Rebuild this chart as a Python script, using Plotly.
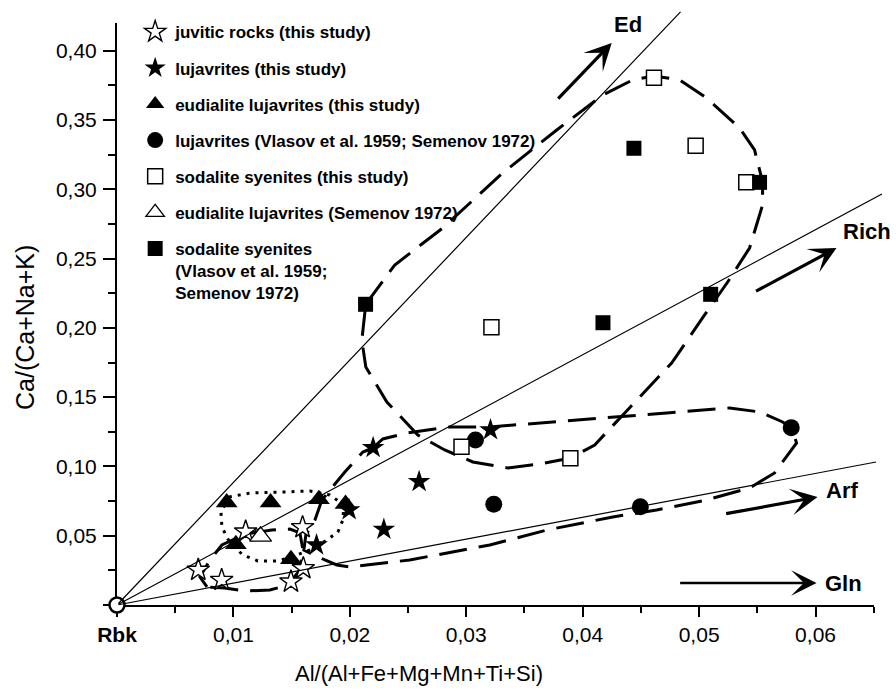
import plotly.graph_objects as go

# ---------------- data ----------------
juv_x = [0.00698, 0.00899, 0.01494, 0.01594, 0.01600, 0.01105]
juv_y = [0.0253, 0.0180, 0.0168, 0.0561, 0.0265, 0.0529]

luj_x = [0.02200, 0.02595, 0.02292, 0.01714, 0.01994, 0.03208]
luj_y = [0.1135, 0.0890, 0.0546, 0.0433, 0.0686, 0.1263]

eud_x = [0.00942, 0.01319, 0.01734, 0.01963, 0.01021, 0.01494]
eud_y = [0.0740, 0.0740, 0.0764, 0.0728, 0.0439, 0.0331]

lujv_x = [0.03079, 0.03236, 0.04495, 0.05791]
lujv_y = [0.1191, 0.0727, 0.0709, 0.1280]

sod_x = [0.02959, 0.03216, 0.03894, 0.04612, 0.04970, 0.05405]
sod_y = [0.1142, 0.2004, 0.1059, 0.3805, 0.3315, 0.3050]

euds_x = [0.01233]
euds_y = [0.0495]

sodv_x = [0.04440, 0.05519, 0.05099, 0.04174, 0.02135]
sodv_y = [0.3296, 0.3050, 0.2242, 0.2037, 0.2170]

origin_x = [0.0]
origin_y = [0.0]

# envelope outlines
env_sod_x = [0.02137, 0.02386, 0.02798, 0.03313, 0.03777, 0.04172, 0.04429, 0.04609,
             0.04833, 0.05064, 0.05348, 0.05476, 0.05545, 0.05545, 0.05433, 0.05245,
             0.05047, 0.04764, 0.04361, 0.04103, 0.03897, 0.03631, 0.03356, 0.03056,
             0.02815, 0.02584, 0.02318, 0.02137, 0.02103, 0.02120, 0.02137]
env_sod_y = [0.2172, 0.2454, 0.2721, 0.3118, 0.3428, 0.3680, 0.3789, 0.3818,
             0.3789, 0.3659, 0.3442, 0.3284, 0.3053, 0.2887, 0.2576, 0.2331,
             0.2093, 0.1746, 0.1386, 0.1155, 0.1061, 0.1018, 0.0989, 0.1032,
             0.1119, 0.1227, 0.1465, 0.1718, 0.1912, 0.2057, 0.2172]

env_luj_x = [0.02197, 0.02283, 0.02489, 0.02858, 0.03202, 0.03605, 0.03974, 0.04721,
             0.05262, 0.05519, 0.05717, 0.05794, 0.05837, 0.05751, 0.05648, 0.05433,
             0.05030, 0.04635, 0.04258, 0.03691, 0.03202, 0.02515, 0.02000, 0.01888,
             0.01785, 0.01605, 0.01622, 0.01700, 0.01760, 0.01957, 0.02112, 0.02197]
env_luj_y = [0.1133, 0.1198, 0.1241, 0.1285, 0.1285, 0.1313, 0.1335, 0.1386,
             0.1422, 0.1393, 0.1321, 0.1277, 0.1169, 0.1068, 0.0953, 0.0844,
             0.0751, 0.0686, 0.0635, 0.0541, 0.0433, 0.0325, 0.0274, 0.0289,
             0.0325, 0.0397, 0.0505, 0.0613, 0.0758, 0.0960, 0.1104, 0.1133]

env_juv_x = [0.00773, 0.00712, 0.00798, 0.00901, 0.01099, 0.01330, 0.01485, 0.01571,
             0.01597, 0.01571, 0.01468, 0.01313, 0.01099, 0.00927, 0.00773]
env_juv_y = [0.0130, 0.0202, 0.0325, 0.0433, 0.0512, 0.0541, 0.0548, 0.0520,
             0.0397, 0.0253, 0.0144, 0.0108, 0.0101, 0.0123, 0.0130]

env_eud_x = [0.00961, 0.01142, 0.01425, 0.01657, 0.01828, 0.01948, 0.01940, 0.01897,
             0.01803, 0.01657, 0.01494, 0.01382, 0.01210, 0.01082, 0.00970, 0.00901,
             0.00893, 0.00961]
env_eud_y = [0.0779, 0.0808, 0.0815, 0.0823, 0.0794, 0.0722, 0.0613, 0.0527,
             0.0469, 0.0397, 0.0346, 0.0318, 0.0318, 0.0361, 0.0447, 0.0563,
             0.0671, 0.0779]

# end-member vectors from Rbk
vec_names = ["Ed", "Rich", "Arf"]
vec_end_x = [0.0484, 0.0657, 0.0652]
vec_end_y = [0.4280, 0.2966, 0.1032]

# trend arrows and labels
arrow_labels = ["Ed", "Rich", "Arf", "Gln"]
arrow_tail_x = [0.03777, 0.05476, 0.05219, 0.04824]
arrow_tail_y = [0.3644, 0.2259, 0.0657, 0.0159]
arrow_head_x = [0.04249, 0.06180, 0.06017, 0.06009]
arrow_head_y = [0.4056, 0.2576, 0.0779, 0.0159]
label_x = [0.04390, 0.06446, 0.06223, 0.06240]
label_y = [0.4186, 0.2692, 0.0823, 0.0152]

# axes ticks
x_tickvals = [0.0, 0.01, 0.02, 0.03, 0.04, 0.05, 0.06]
x_ticktext = ["<b>Rbk</b>", "0,01", "0,02", "0,03", "0,04", "0,05", "0,06"]
y_tickvals = [0.0, 0.05, 0.10, 0.15, 0.20, 0.25, 0.30, 0.35, 0.40]
y_ticktext = ["", "0,05", "0,10", "0,15", "0,20", "0,25", "0,30", "0,35", "0,40"]

FONT = "Liberation Sans, Arial, sans-serif"

fig = go.Figure()

# envelopes
for ex, ey in [(env_sod_x, env_sod_y), (env_luj_x, env_luj_y), (env_juv_x, env_juv_y)]:
    fig.add_trace(go.Scatter(x=ex, y=ey, mode="lines", showlegend=False, hoverinfo="skip",
                             line=dict(color="black", width=3, dash="28px,12px")))
fig.add_trace(go.Scatter(x=env_eud_x, y=env_eud_y, mode="lines", showlegend=False,
                         hoverinfo="skip",
                         line=dict(color="black", width=3, dash="3px,6px")))

# point series (legend order)
series = [
    ("juvitic rocks (this study)", juv_x, juv_y, "star", 17, "white", 1.4),
    ("lujavrites (this study)", luj_x, luj_y, "star", 17, "black", 0),
    ("eudialite lujavrites (this study)", eud_x, eud_y, "triangle-up", 19, "black", 0),
    ("lujavrites (Vlasov et al. 1959; Semenov 1972)", lujv_x, lujv_y, "circle", 17, "black", 0),
    ("sodalite syenites (this study)", sod_x, sod_y, "square", 15, "white", 1.5),
    ("eudialite lujavrites (Semenov 1972)", euds_x, euds_y, "triangle-up", 19, "white", 1.3),
    ("sodalite syenites<br>(Vlasov et al. 1959;<br>Semenov 1972)", sodv_x, sodv_y, "square", 15, "black", 0),
]
for i, (name, sx, sy, sym, size, fill, lw) in enumerate(series):
    fig.add_trace(go.Scatter(
        x=sx, y=sy, mode="markers", name=name, legendgroup=f"g{i}",
        marker=dict(symbol=sym, size=size, color=fill,
                    line=dict(color="black", width=lw)),
        cliponaxis=False))

# Rbk origin
fig.add_trace(go.Scatter(x=origin_x, y=origin_y, mode="markers", showlegend=False,
                         marker=dict(symbol="circle", size=15, color="white",
                                     line=dict(color="black", width=2.5)),
                         cliponaxis=False, hoverinfo="skip"))

annotations = []
# vectors from origin (annotations are not clipped to the plot area)
for n, ex, ey in zip(vec_names, vec_end_x, vec_end_y):
    annotations.append(dict(x=ex, y=ey, ax=origin_x[0], ay=origin_y[0], xref="x", yref="y",
                            axref="x", ayref="y", text="", showarrow=True, arrowhead=0,
                            arrowwidth=1.2, arrowcolor="black", standoff=0, startstandoff=0))
# trend arrows
for lab, tx, ty, hx, hy, lx, ly in zip(arrow_labels, arrow_tail_x, arrow_tail_y,
                                       arrow_head_x, arrow_head_y, label_x, label_y):
    w = 2.5 if lab == "Gln" else 3.2
    annotations.append(dict(x=hx, y=hy, ax=tx, ay=ty, xref="x", yref="y", axref="x",
                            ayref="y", text="", showarrow=True, arrowhead=3,
                            arrowsize=1.7 if lab == "Gln" else 1.4,
                            arrowwidth=w, arrowcolor="black", standoff=0, startstandoff=0))
    annotations.append(dict(x=lx, y=ly, xref="x", yref="y", text=f"<b>{lab}</b>",
                            showarrow=False, xanchor="center", yanchor="middle",
                            font=dict(family=FONT, size=22, color="black")))

# axis titles
annotations.append(dict(x=0.399, y=-0.118, xref="paper", yref="paper",
                        text="Al/(Al+Fe+Mg+Mn+Ti+Si)", showarrow=False,
                        xanchor="center", yanchor="middle",
                        font=dict(family=FONT, size=22, color="black")))
annotations.append(dict(x=-0.1215, y=0.476, xref="paper", yref="paper",
                        text="Ca/(Ca+Na+K)", showarrow=False, textangle=-90,
                        xanchor="center", yanchor="middle",
                        font=dict(family=FONT, size=25, color="black")))

axis_common = dict(showgrid=False, zeroline=False, showline=True, linecolor="black",
                   linewidth=2, ticks="outside", tickcolor="black", tickwidth=2,
                   tickfont=dict(family=FONT, size=21, color="black"),
                   layer="below traces")

fig.update_layout(
    width=896, height=693,
    margin=dict(l=117, r=22, t=23, b=88),
    paper_bgcolor="white", plot_bgcolor="white",
    xaxis=dict(range=[0, 0.06502], tickmode="array", tickvals=x_tickvals,
               ticktext=x_ticktext, ticklen=10, ticklabelstandoff=0,
               minor=dict(tickmode="linear", tick0=0, dtick=0.005, ticklen=6,
                          ticks="outside", tickcolor="black", tickwidth=2),
               **axis_common),
    yaxis=dict(range=[0, 0.42], tickmode="array", tickvals=y_tickvals,
               ticktext=y_ticktext, ticklen=12, ticklabelstandoff=2,
               minor=dict(tickmode="linear", tick0=0, dtick=0.025, ticklen=7,
                          ticks="outside", tickcolor="black", tickwidth=2),
               **axis_common),
    legend=dict(x=0.024, y=1.015, xanchor="left", yanchor="top",
                bgcolor="rgba(0,0,0,0)", tracegroupgap=11, valign="top",
                font=dict(family=FONT, size=17, color="black", weight="bold")),
    annotations=annotations,
    showlegend=True,
)

fig.write_html("out.html",
               config={"displayModeBar": False},
               post_script="document.body.style.margin='0px';"
                           "document.body.style.overflow='hidden';")
